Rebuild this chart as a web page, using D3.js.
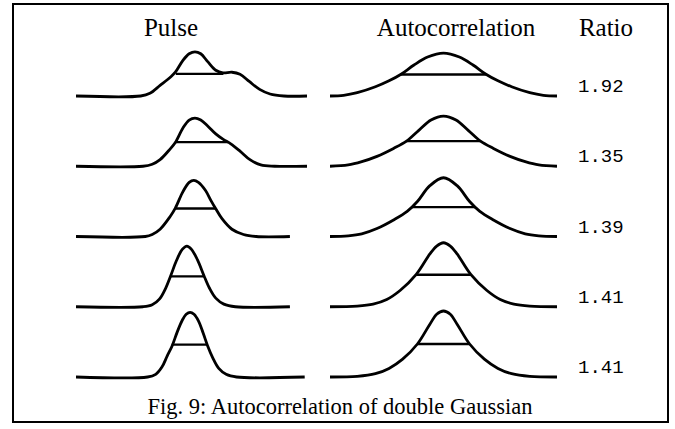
<!DOCTYPE html>
<html>
<head>
<meta charset="utf-8">
<script src="https://cdn.jsdelivr.net/npm/d3@7"></script>
<style>
  body{margin:0;background:#fff;}
  svg{display:block;}
  .serif{font-family:"Liberation Serif","Times New Roman",serif;fill:#000;}
  .mono{font-family:"Liberation Mono","Courier New",monospace;fill:#000;}
</style>
</head>
<body>
<svg></svg>
<script>
// column titles, ratio labels, caption
var titles = ["Pulse","Autocorrelation","Ratio"];
var ratios = ["1.92","1.35","1.39","1.41","1.41"];
var caption = "Fig. 9: Autocorrelation of double Gaussian";

// pulse shapes: [time, amplitude] (time 0..100)
var pulse1 = [[0,0],[28,0],[32,0.04],[36.4,0.16],[40.7,0.28],[43,0.36],[46.3,0.54],[49,0.64],[51.5,0.67],[54,0.64],[57,0.52],[60.5,0.39],[63.6,0.35],[67.5,0.36],[71,0.33],[75,0.22],[79.5,0.1],[84,0.03],[90,0],[100,0]];
var pulse2 = [[0,0],[29,0],[33,0.03],[36.4,0.1],[40.7,0.26],[43,0.36],[46.3,0.58],[49,0.7],[51.5,0.73],[54,0.7],[57,0.61],[60.5,0.49],[63.6,0.41],[67,0.34],[71,0.23],[75.3,0.1],[80,0.02],[86,0],[100,0]];
var pulse3 = [[0,0],[30,0],[33,0.03],[36.4,0.11],[40.7,0.3],[43,0.43],[46.3,0.68],[49,0.82],[51,0.85],[53,0.82],[56,0.7],[58.5,0.54],[60.5,0.42],[63.2,0.27],[67.5,0.11],[72.5,0.03],[78,0],[92.6,0]];
var pulse4 = [[0,0],[29,0],[33,0.03],[36.2,0.12],[38.8,0.28],[41,0.47],[43.5,0.7],[46,0.87],[48,0.92],[50,0.87],[52.6,0.71],[55.4,0.47],[57.8,0.28],[60.5,0.13],[64,0.04],[69,0],[92.6,0]];
var pulse5 = [[0,0],[31,0],[34.5,0.04],[37.2,0.15],[39.5,0.32],[41.6,0.47],[43.8,0.68],[46,0.86],[47.7,0.95],[49.4,0.98],[51.1,0.95],[53,0.85],[55,0.67],[57,0.47],[59.2,0.29],[61.8,0.13],[65,0.04],[69.5,0],[99,0]];

// autocorrelation shapes: [lag, amplitude] (lag -50..50)
var auto1 = [[-50,0],[-44,0.01],[-38,0.05],[-30,0.14],[-24,0.23],[-18.7,0.33],[-13,0.47],[-7,0.59],[0,0.65],[7,0.59],[13,0.47],[18.7,0.33],[24,0.23],[30,0.14],[38,0.05],[44,0.01],[50,0]];
var auto2 = [[-50,0],[-42,0.02],[-36,0.07],[-29.3,0.15],[-22,0.27],[-16.3,0.38],[-11,0.54],[-5.5,0.7],[0,0.76],[5.5,0.7],[11,0.54],[16.3,0.38],[22,0.27],[29.3,0.15],[36,0.07],[42,0.02],[50,0]];
var auto3 = [[-50,0],[-42,0.01],[-36,0.04],[-29.3,0.12],[-22,0.25],[-16,0.38],[-11.5,0.53],[-6,0.77],[0,0.89],[6,0.77],[11.5,0.53],[16,0.38],[22,0.25],[29.3,0.12],[36,0.04],[42,0.01],[50,0]];
var auto4 = [[-50,0],[-38,0.01],[-31,0.04],[-25,0.11],[-19,0.25],[-12,0.49],[-6,0.8],[-3,0.92],[0,0.97],[3,0.92],[6,0.8],[12,0.49],[19,0.25],[25,0.11],[31,0.04],[38,0.01],[50,0]];
var auto5 = [[-50,0],[-38,0.01],[-30,0.05],[-24,0.13],[-18,0.27],[-11.5,0.5],[-6,0.8],[-3,0.95],[0,1],[3,0.95],[6,0.8],[11.5,0.5],[18,0.27],[24,0.13],[30,0.05],[38,0.01],[50,0]];

// full-width-half-max marker ends
var pulseHalf = [[43.2,63.8],[42.8,65.8],[42.8,60.6],[40.7,55.7],[41.5,57]];
var autoHalf = [[-18.7,18.7],[-16.3,16.3],[-14,14],[-12,12],[-11.5,11.5]];

var pulses = [pulse1,pulse2,pulse3,pulse4,pulse5];
var autos = [auto1,auto2,auto3,auto4,auto5];

function go(){
  var width = 675, height = 429;
  var svg = d3.select("svg").attr("width",width).attr("height",height);

  // frame
  svg.append("rect")
     .attr("x",13).attr("y",4)
     .attr("width",655).attr("height",418)
     .attr("fill","none").attr("stroke","#000").attr("stroke-width",2);

  var rowY = d3.scalePoint().domain(d3.range(ratios.length)).range([96,377]);
  var xPulse = d3.scaleLinear().domain([0,100]).range([76,307]);
  var xAuto = d3.scaleLinear().domain([-50,50]).range([330,557]);
  var yAmp = d3.scaleLinear().domain([0,1]).range([0,-66]);

  var titleX = [171,456,606];
  svg.selectAll("text.title")
     .data(titles)
     .enter()
     .append("text")
     .attr("class","title serif")
     .attr("x",function(d,i){return titleX[i];})
     .attr("y",36)
     .attr("text-anchor","middle")
     .style("font-size","25px")
     .text(function(d){return d;});

  drawColumn(svg,pulses,pulseHalf,xPulse,yAmp,rowY);
  drawColumn(svg,autos,autoHalf,xAuto,yAmp,rowY);

  svg.selectAll("text.ratio")
     .data(ratios)
     .enter()
     .append("text")
     .attr("class","ratio mono")
     .attr("x",578)
     .attr("y",function(d,i){return rowY(i)-4;})
     .style("font-size","19px")
     .text(function(d){return d;});

  svg.append("text")
     .attr("class","serif")
     .attr("x",340)
     .attr("y",414)
     .attr("text-anchor","middle")
     .style("font-size","22.5px")
     .text(caption);
}

function drawColumn(svg,curves,halves,x,y,rowY){
  var lineMaker = d3.line()
                    .x(function(d){return x(d[0]);})
                    .y(function(d){return y(d[1]);})
                    .curve(d3.curveCatmullRom.alpha(0.5));

  var g = svg.append("g")
             .selectAll("g")
             .data(curves)
             .enter()
             .append("g")
             .attr("transform",function(d,i){return "translate(0,"+rowY(i)+")";});

  g.append("path")
   .attr("d",function(d){return lineMaker(d);})
   .attr("fill","none")
   .attr("stroke","#000")
   .attr("stroke-width",2.8)
   .attr("stroke-linejoin","round");

  g.append("line")
   .attr("x1",function(d,i){return x(halves[i][0]);})
   .attr("x2",function(d,i){return x(halves[i][1]);})
   .attr("y1",function(d){return y(d3.max(d,function(p){return p[1];})/2);})
   .attr("y2",function(d){return y(d3.max(d,function(p){return p[1];})/2);})
   .attr("stroke","#000")
   .attr("stroke-width",2.4);
}

go();
</script>
</body>
</html>
